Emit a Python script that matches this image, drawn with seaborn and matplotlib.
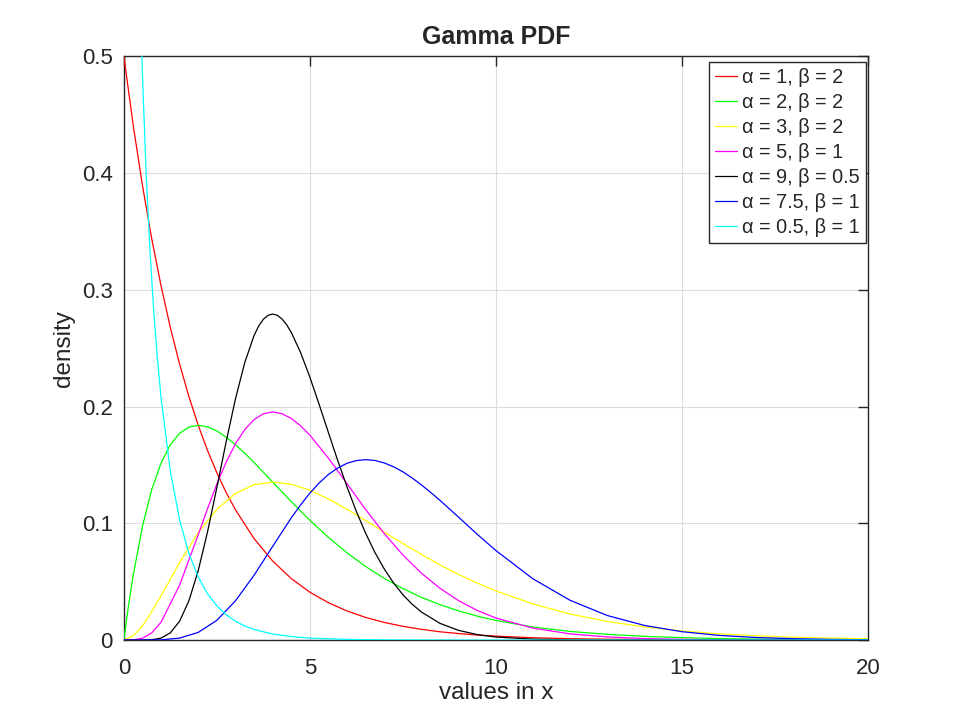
import numpy as np
import pandas as pd
import matplotlib.pyplot as plt
from matplotlib.ticker import FuncFormatter
import seaborn as sns

# gamma pdf values (shape alpha, scale beta)
x_common = [0, 0.25, 0.5, 0.75, 1, 1.5, 2, 2.5, 3, 3.5, 4, 4.5, 5, 5.5, 6, 6.5,
            7, 7.5, 8, 8.5, 9, 9.5, 10, 11, 12, 13, 14, 15, 16, 17, 18, 19, 20]

x_a1 = [0, 0.25, 0.5, 0.75, 1, 1.25, 1.5, 1.75, 2, 2.25, 2.5, 2.75, 3, 3.5, 4, 4.5,
        5, 5.5, 6, 6.5, 7, 7.5, 8, 8.5, 9, 9.5, 10, 11, 12, 13, 14, 15, 16, 17,
        18, 19, 20]
y_a1_b2 = [0.5, 0.4412, 0.3894, 0.3436, 0.3033, 0.2676, 0.2362, 0.2084, 0.1839,
           0.1623, 0.1433, 0.1264, 0.1116, 0.0869, 0.0677, 0.0527, 0.0410, 0.0320,
           0.0249, 0.0194, 0.0151, 0.0118, 0.0092, 0.0071, 0.0056, 0.0043, 0.0034,
           0.0020, 0.0012, 0.00075, 0.00046, 0.00028, 0.00017, 0.0001, 0.00006,
           0.00004, 0.00002]

x_a2 = [0, 0.125, 0.25, 0.5, 0.75, 1, 1.25, 1.5, 1.75, 2, 2.25, 2.5, 2.75, 3, 3.25,
        3.5, 4, 4.5, 5, 5.5, 6, 6.5, 7, 7.5, 8, 8.5, 9, 9.5, 10,
        11, 12, 13, 14, 15, 16, 17, 18, 19, 20]
y_a2_b2 = [0, 0.0294, 0.0552, 0.0974, 0.1289, 0.1516, 0.1673, 0.1771, 0.1824,
           0.1839, 0.1826, 0.1791, 0.1738, 0.1673, 0.1600, 0.1521, 0.1353, 0.1186,
           0.1026, 0.0879, 0.0747, 0.0630, 0.0528, 0.0441, 0.0366, 0.0303, 0.0250,
           0.0205, 0.0168, 0.0112, 0.0074, 0.0049, 0.0032, 0.0021, 0.0013, 0.00086,
           0.00056, 0.00036, 0.00023]

y_a3_b2 = [0, 0.00345, 0.0122, 0.0242, 0.0379, 0.0664, 0.0920, 0.1119, 0.1255,
           0.1331, 0.1353, 0.1334, 0.1283, 0.1208, 0.1120, 0.1024, 0.0925, 0.0827,
           0.0733, 0.0644, 0.0562, 0.0488, 0.0421, 0.0309, 0.0223, 0.0159, 0.0112,
           0.0078, 0.0054, 0.0037, 0.0025, 0.0017, 0.0011]

x_a5 = [0, 0.25, 0.5, 0.75, 1, 1.5, 2, 2.25, 2.5, 2.75, 3, 3.25, 3.5, 3.75, 4,
        4.25, 4.5, 4.75, 5, 5.5, 6, 6.5, 7, 7.5, 8, 8.5, 9, 9.5, 10,
        11, 12, 13, 14, 15, 16, 17, 18, 19, 20]
y_a5_b1 = [0, 0.00013, 0.0016, 0.0062, 0.0153, 0.0471, 0.0902, 0.1126, 0.1336,
           0.1523, 0.1680, 0.1803, 0.1888, 0.1938, 0.1954, 0.1939, 0.1898, 0.1835,
           0.1755, 0.1558, 0.1339, 0.1118, 0.0912, 0.0729, 0.0573, 0.0443, 0.0337,
           0.0254, 0.0189, 0.0102, 0.0053, 0.0027, 0.0013, 0.00065, 0.00031,
           0.00014, 0.00007, 0.00003, 0.00001]

x_a75 = [0, 0.5, 1, 1.5, 2, 2.5, 3, 3.5, 4, 4.5, 4.75, 5, 5.25, 5.5, 5.75, 6, 6.25,
         6.5, 6.75, 7, 7.25, 7.5, 7.75, 8, 8.25, 8.5, 9, 9.5, 10,
         11, 12, 13, 14, 15, 16, 17, 18, 19, 20]
y_a75_b1 = [0, 0, 0.0002, 0.0017, 0.0066, 0.0169, 0.0336, 0.0555, 0.0802, 0.1046,
            0.1157, 0.1258, 0.1345, 0.1418, 0.1474, 0.1514, 0.1537, 0.1545, 0.1538,
            0.1517, 0.1484, 0.1441, 0.1388, 0.1329, 0.1264, 0.1196, 0.1052, 0.0906,
            0.0767, 0.0524, 0.0340, 0.0210, 0.0125, 0.0072, 0.0040, 0.0022, 0.0012,
            0.0006, 0.0003]

x_a9 = [0, 0.25, 0.5, 0.75, 1, 1.25, 1.5, 1.75, 2, 2.25, 2.5, 2.75, 3, 3.25, 3.5,
        3.625, 3.75, 3.875, 4, 4.125, 4.25, 4.375, 4.5, 4.75, 5, 5.25, 5.5, 5.75,
        6, 6.25, 6.5, 6.75, 7, 7.25, 7.5, 7.75, 8, 8.5, 9, 9.5, 10, 11, 12, 13, 20]
y_a9_b05 = [0, 0, 0.00002, 0.0003, 0.0017, 0.0062, 0.0162, 0.0337, 0.0595, 0.0927,
            0.1306, 0.1697, 0.2065, 0.2376, 0.2608, 0.2689, 0.2747, 0.2781, 0.2792,
            0.2781, 0.2750, 0.2701, 0.2635, 0.2463, 0.2252, 0.2018, 0.1776, 0.1537,
            0.1311, 0.1102, 0.0915, 0.0750, 0.0609, 0.0489, 0.0389, 0.0307, 0.0240,
            0.0143, 0.0083, 0.0047, 0.0026, 0.0008, 0.0002, 0.00005, 0]

x_a05 = [0.4, 0.5, 0.6, 0.7, 0.8, 0.9, 1, 1.25, 1.5, 1.75, 2, 2.25, 2.5, 2.75, 3,
         3.25, 3.5, 4, 4.5, 5, 6, 7, 8, 10, 20]
y_a05_b1 = [0.598, 0.4839, 0.3997, 0.3349, 0.2834, 0.2418, 0.2076, 0.1446, 0.1028,
            0.0741, 0.0540, 0.0396, 0.0293, 0.0218, 0.0162, 0.0121, 0.0091, 0.0052,
            0.0030, 0.0017, 0.00057, 0.00019, 0.00007, 0.00001, 0]

labels = ['α = 1, β = 2', 'α = 2, β = 2', 'α = 3, β = 2', 'α = 5, β = 1',
          'α = 9, β = 0.5', 'α = 7.5, β = 1', 'α = 0.5, β = 1']

series = [
    (x_a1, y_a1_b2, 'red'),
    (x_a2, y_a2_b2, '#00ff00'),
    (x_common, y_a3_b2, '#ffff00'),
    (x_a5, y_a5_b1, '#ff00ff'),
    (x_a9, y_a9_b05, 'black'),
    (x_a75, y_a75_b1, 'blue'),
    (x_a05, y_a05_b1, 'cyan'),
]

sns.set_style("white")
plt.rcParams['font.family'] = ['Liberation Sans', 'DejaVu Sans']

fig, ax = plt.subplots(figsize=(9.6, 7.2), dpi=100)
fig.subplots_adjust(left=0.129, right=0.904, bottom=0.111, top=0.922)

for (xs, ys, col), lab in zip(series, labels):
    df = pd.DataFrame({'x': xs, 'y': ys})
    sns.lineplot(data=df, x='x', y='y', color=col, lw=0.9, label=lab,
                 ax=ax, zorder=3, sort=True, estimator=None)

ax.set_xlim(0, 20)
ax.set_ylim(0, 0.5)
ax.set_xticks([0, 5, 10, 15, 20])
ax.set_yticks([0, 0.1, 0.2, 0.3, 0.4, 0.5])
ax.yaxis.set_major_formatter(FuncFormatter(lambda v, p: '0' if v == 0 else f'{v:g}'))

ax.grid(True, color='#dcdcdc', lw=0.8)
ax.set_axisbelow(True)
for sp in ax.spines.values():
    sp.set_color('#262626')
    sp.set_linewidth(1)
    sp.set_visible(True)
ax.tick_params(direction='in', top=True, right=True, length=7, width=1,
               colors='#262626', labelsize=16)
ax.tick_params(axis='x', pad=13)
ax.tick_params(axis='y', pad=8)

ax.set_title('Gamma PDF', fontsize=18, fontweight='bold', pad=9)
ax.set_xlabel('values in x', fontsize=17.5, color='#262626', labelpad=2)
ax.set_ylabel('density', fontsize=17.5, color='#262626', labelpad=5)

leg = ax.legend(loc='upper right', bbox_to_anchor=(0.997, 0.99), fontsize=14.3,
                frameon=True, fancybox=False, framealpha=1, edgecolor='#262626',
                handlelength=1.1, handletextpad=0.25, labelspacing=0.3,
                borderpad=0.3, borderaxespad=0)
leg.get_frame().set_linewidth(1)

plt.savefig('out.png', dpi=100)
